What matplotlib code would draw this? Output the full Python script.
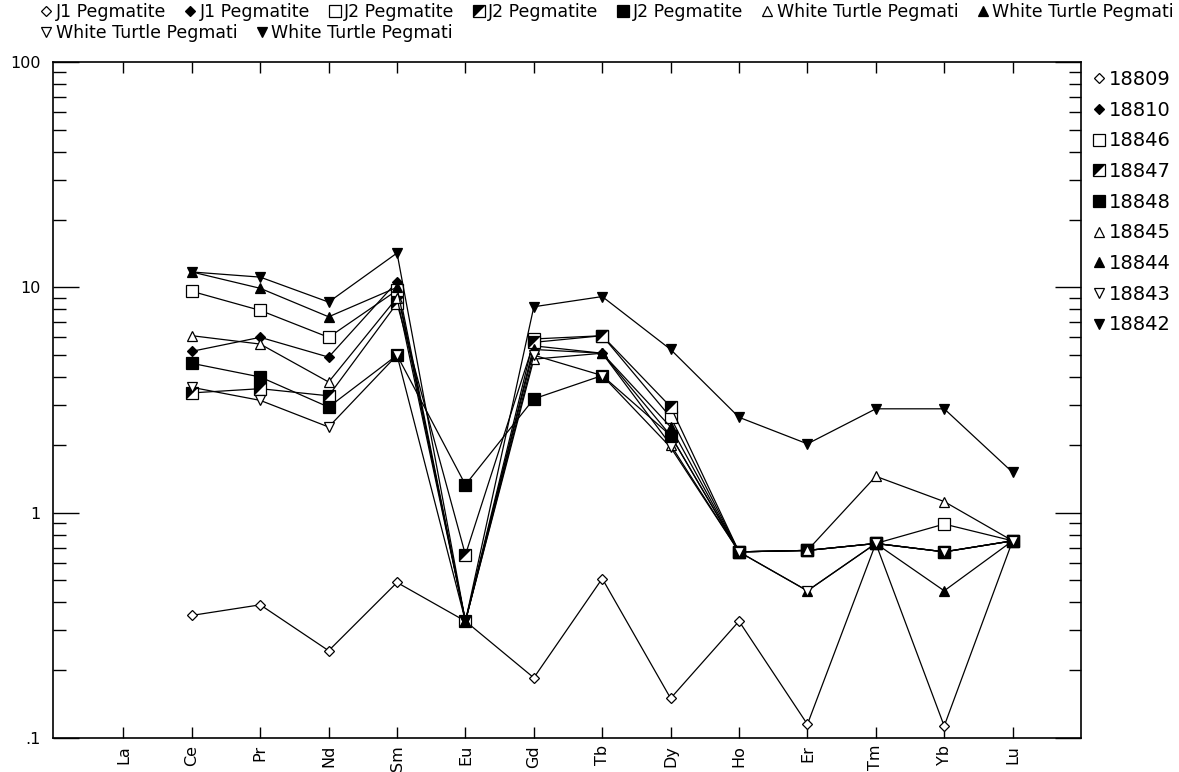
import matplotlib
matplotlib.use("Agg")
import matplotlib.pyplot as plt
import numpy as np
from matplotlib.path import Path
from matplotlib.lines import Line2D
from matplotlib.legend_handler import HandlerTuple
from matplotlib.ticker import FixedLocator, NullFormatter, FixedFormatter

plt.rcParams['font.family'] = ['DejaVu Sans']

elements = ['La', 'Ce', 'Pr', 'Nd', 'Sm', 'Eu', 'Gd', 'Tb', 'Dy', 'Ho', 'Er', 'Tm', 'Yb', 'Lu']
nan = np.nan

# chondrite-normalised REE, one list per sample (La not analysed)
s18809 = [nan, 0.35, 0.39, 0.244, 0.49, 0.33, 0.185, 0.51, 0.15, 0.33, 0.115, 0.73, 0.113, 0.75]
s18810 = [nan, 5.2, 6.0, 4.9, 10.6, 0.33, 5.5, 5.1, 2.2, 0.67, 0.68, 0.73, 0.67, 0.75]
s18846 = [nan, 9.6, 7.9, 6.0, 9.7, 0.33, 5.9, 6.1, 2.65, 0.67, 0.68, 0.73, 0.89, 0.75]
s18847 = [nan, 3.4, 3.55, 3.3, 8.5, 0.65, 5.7, 6.1, 2.95, 0.67, 0.68, 0.73, 0.67, 0.75]
s18848 = [nan, 4.6, 4.0, 2.94, 5.0, 1.33, 3.2, 4.06, 2.2, 0.67, 0.68, 0.73, 0.67, 0.75]
s18845 = [nan, 6.1, 5.6, 3.8, 9.0, 0.33, 4.8, 5.1, 2.0, 0.67, 0.68, 1.45, 1.12, 0.75]
s18844 = [nan, 11.7, 9.9, 7.4, 10.0, 0.33, 5.3, 5.1, 2.4, 0.67, 0.45, 0.73, 0.45, 0.75]
s18843 = [nan, 3.6, 3.15, 2.4, 5.0, 0.33, 5.0, 4.06, 1.95, 0.67, 0.45, 0.73, 0.67, 0.75]
s18842 = [nan, 11.7, 11.1, 8.6, 14.2, 0.33, 8.2, 9.1, 5.3, 2.65, 2.02, 2.89, 2.89, 1.51]

sample_ids = ['18809', '18810', '18846', '18847', '18848', '18845', '18844', '18843', '18842']
rock_names = ['J1 Pegmatite', 'J1 Pegmatite', 'J2 Pegmatite', 'J2 Pegmatite', 'J2 Pegmatite',
              'White Turtle Pegmati', 'White Turtle Pegmati', 'White Turtle Pegmati',
              'White Turtle Pegmati']
series = [s18809, s18810, s18846, s18847, s18848, s18845, s18844, s18843, s18842]

y_ticks = [0.1, 1, 10, 100]
y_ticklabels = ['.1', '1', '10', '100']

# half-filled square: black upper-left triangle drawn over an open square
half_tri = Path([(-0.5, 0.5), (0.5, 0.5), (-0.5, -0.5), (-0.5, 0.5)],
                [Path.MOVETO, Path.LINETO, Path.LINETO, Path.CLOSEPOLY])

styles = [
    dict(marker='D', ms=5.5, mfc='white'),
    dict(marker='D', ms=5.5, mfc='black'),
    dict(marker='s', ms=8, mfc='white'),
    dict(marker='s', ms=8, mfc='white'),
    dict(marker='s', ms=8, mfc='black'),
    dict(marker='^', ms=6.5, mfc='white'),
    dict(marker='^', ms=6.5, mfc='black'),
    dict(marker='v', ms=6.5, mfc='white'),
    dict(marker='v', ms=6.5, mfc='black'),
]

W, H = 1179, 772
fig = plt.figure(figsize=(W / 100, H / 100), dpi=100)
ax = fig.add_axes([53 / W, 1 - 738 / H, (1081 - 53) / W, (738 - 62) / H])

x = np.arange(len(elements))
handles = []
for i, (vals, st) in enumerate(zip(series, styles)):
    ax.plot(x, vals, color='black', lw=0.9, mec='black', mew=0.9, zorder=2 + i * 0.1, **st)
    h = Line2D([], [], ls='none', color='black', mec='black', mew=0.9, **st)
    if sample_ids[i] == '18847':
        ax.plot(x, vals, ls='none', marker=half_tri, ms=8, mfc='black', mec='black',
                mew=0, zorder=2 + i * 0.1 + 0.05)
        tri = Line2D([], [], ls='none', marker=half_tri, ms=8, mfc='black', mec='black', mew=0)
        h = (h, tri)
    handles.append(h)

ax.set_yscale('log')
ax.set_ylim(0.1, 100)
ax.set_xlim(-1.03, 14.0)

ax.yaxis.set_major_locator(FixedLocator(y_ticks))
ax.yaxis.set_major_formatter(FixedFormatter(y_ticklabels))
minors = [m * 10.0 ** e for e in (-1, 0, 1) for m in range(2, 10)]
ax.yaxis.set_minor_locator(FixedLocator(minors))
ax.yaxis.set_minor_formatter(NullFormatter())
ax.tick_params(axis='y', which='major', direction='in', length=19, width=1,
               left=True, right=True, labelsize=11.5, pad=9)
ax.tick_params(axis='y', which='minor', direction='in', length=9, width=1,
               left=True, right=True)

ax.set_xticks(x)
ax.set_xticklabels(elements, rotation=90)
ax.tick_params(axis='x', which='both', direction='in', length=8, width=1,
               top=True, bottom=True, labelsize=11.5, pad=5)
ax.xaxis.set_minor_locator(FixedLocator([]))
for sp in ax.spines.values():
    sp.set_linewidth(1.2)

hmap = {tuple: HandlerTuple(ndivide=1, pad=0)}

# top legend, laid out as two flowing rows
leg_kw = dict(frameon=False, handlelength=0.7, handletextpad=0.2, columnspacing=1.05,
              fontsize=12.5, borderpad=0, borderaxespad=0, loc='upper left',
              handler_map=hmap)
fig.legend(handles[:7], rock_names[:7], ncol=7,
           bbox_to_anchor=(40 / W, 1 - 3 / H), **leg_kw)
fig.legend(handles[7:], rock_names[7:], ncol=2,
           bbox_to_anchor=(40 / W, 1 - 24 / H), **leg_kw)

# sample list at the right
fig.legend(handles, sample_ids, frameon=False, handlelength=0.7, handletextpad=0.15,
           fontsize=14, labelspacing=0.6, borderpad=0, borderaxespad=0,
           loc='upper left', bbox_to_anchor=(1092 / W, 1 - 70 / H), handler_map=hmap)

fig.savefig('out.png', dpi=100)
